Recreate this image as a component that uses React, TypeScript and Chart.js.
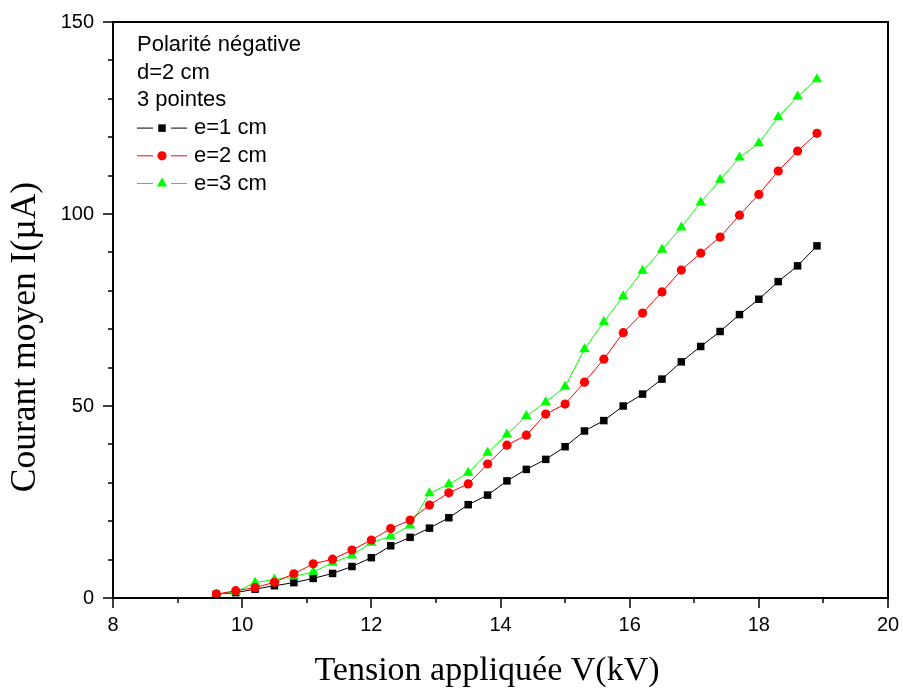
import React, { useEffect, useRef } from "react";
import { Chart, registerables } from "chart.js";

Chart.register(...registerables);

// ---------- data ----------
const voltages = [9.6, 9.9, 10.2, 10.5, 10.8, 11.1, 11.4, 11.7, 12.0, 12.3, 12.6, 12.9, 13.2, 13.5, 13.8, 14.1, 14.4, 14.7, 15.0, 15.3, 15.6, 15.9, 16.2, 16.5, 16.8, 17.1, 17.4, 17.7, 18.0, 18.3, 18.6, 18.9];
const currentE1 = [1.0, 1.4, 2.3, 3.2, 4.0, 5.1, 6.4, 8.2, 10.5, 13.6, 15.8, 18.2, 20.9, 24.3, 26.8, 30.5, 33.5, 36.1, 39.4, 43.5, 46.2, 50.0, 53.1, 57.0, 61.5, 65.5, 69.4, 73.8, 77.8, 82.4, 86.5, 91.7];
const currentE2 = [1.0, 1.9, 2.7, 4.1, 6.3, 8.9, 10.1, 12.5, 15.1, 18.1, 20.3, 24.2, 27.4, 29.7, 34.9, 39.8, 42.4, 47.9, 50.5, 56.2, 62.2, 69.1, 74.2, 79.7, 85.4, 89.8, 94.0, 99.7, 105.1, 111.2, 116.4, 121.0];
const currentE3 = [1.0, 1.6, 4.0, 4.8, 5.6, 6.8, 9.2, 11.1, 14.4, 16.1, 18.9, 27.3, 29.6, 32.6, 37.8, 42.6, 47.4, 51.0, 55.0, 64.8, 71.9, 78.6, 85.2, 90.7, 96.5, 103.0, 108.9, 114.7, 118.4, 125.2, 130.6, 135.1];

const seriesLabels = ["e=1 cm", "e=2 cm", "e=3 cm"];
const headerLines = ["Polarité négative", "d=2 cm", "3 pointes"];
const xTitle = "Tension appliquée V(kV)";
const yTitle = "Courant moyen I(µA)";
const xMin = 8, xMax = 20, xMajor = 2, xMinor = 1;
const yMin = 0, yMax = 150, yMajor = 50, yMinor = 10;

const SANS = "'Liberation Sans', Arial, sans-serif";
const SERIF = "'Liberation Serif', 'Times New Roman', serif";
const COLORS = ["#000000", "#ff0000", "#00ff00"];
const STYLES = ["rect", "circle", "triangle"];
const RADII = [5.3, 4.6, 6.0];

function drawMarker(ctx: CanvasRenderingContext2D, style: string, x: number, y: number, r: number, color: string) {
  ctx.save();
  ctx.fillStyle = color;
  ctx.beginPath();
  if (style === "rect") {
    const s = Math.SQRT1_2 * r;
    ctx.rect(x - s, y - s, 2 * s, 2 * s);
  } else if (style === "circle") {
    ctx.arc(x, y, r, 0, Math.PI * 2);
  } else {
    ctx.moveTo(x, y - r);
    ctx.lineTo(x + r * Math.sin(Math.PI / 3), y + r / 2);
    ctx.lineTo(x - r * Math.sin(Math.PI / 3), y + r / 2);
    ctx.closePath();
  }
  ctx.fill();
  ctx.restore();
}

const framePlugin = {
  id: "frameTicks",
  afterDraw(chart: any) {
    const { ctx, chartArea } = chart;
    const xs = chart.scales.x;
    const ys = chart.scales.y;
    ctx.save();
    ctx.strokeStyle = "#000";
    ctx.lineWidth = 2;
    ctx.strokeRect(chartArea.left, chartArea.top, chartArea.right - chartArea.left, chartArea.bottom - chartArea.top);
    ctx.lineWidth = 1.5;
    ctx.beginPath();
    for (let v = xMin; v <= xMax + 1e-9; v += xMinor) {
      const px = Math.round(xs.getPixelForValue(v));
      const len = Math.abs(v / xMajor - Math.round(v / xMajor)) < 1e-9 ? 10 : 5;
      ctx.moveTo(px, chartArea.bottom);
      ctx.lineTo(px, chartArea.bottom + len);
    }
    for (let v = yMin; v <= yMax + 1e-9; v += yMinor) {
      const py = Math.round(ys.getPixelForValue(v));
      const len = Math.abs(v / yMajor - Math.round(v / yMajor)) < 1e-9 ? 10 : 5;
      ctx.moveTo(chartArea.left, py);
      ctx.lineTo(chartArea.left - len, py);
    }
    ctx.stroke();

    // axis titles
    ctx.fillStyle = "#000";
    ctx.textAlign = "center";
    ctx.textBaseline = "alphabetic";
    ctx.font = `34px ${SERIF}`;
    ctx.fillText(xTitle, 487, 680);
    ctx.save();
    ctx.translate(35, 337);
    ctx.rotate(-Math.PI / 2);
    ctx.font = `35.5px ${SERIF}`;
    ctx.fillText(yTitle, 0, 0);
    ctx.restore();

    // legend block
    const x0 = chartArea.left + 24;
    const y0 = chartArea.top + 23;
    const step = 27.7;
    ctx.font = `22px ${SANS}`;
    ctx.fillStyle = "#000";
    ctx.textBaseline = "middle";
    ctx.textAlign = "left";
    headerLines.forEach((t, i) => ctx.fillText(t, x0, y0 + i * step));
    seriesLabels.forEach((t, i) => {
      const y = y0 + (headerLines.length + i) * step;
      ctx.strokeStyle = COLORS[i];
      ctx.lineWidth = 1;
      ctx.beginPath();
      ctx.moveTo(x0, y);
      ctx.lineTo(x0 + 16, y);
      ctx.moveTo(x0 + 34, y);
      ctx.lineTo(x0 + 50, y);
      ctx.stroke();
      drawMarker(ctx, STYLES[i], x0 + 25, y, RADII[i], COLORS[i]);
      ctx.fillStyle = "#000";
      ctx.fillText(t, x0 + 57, y);
    });
    ctx.restore();
  },
};

export default function App() {
  const canvasRef = useRef<HTMLCanvasElement | null>(null);

  useEffect(() => {
    document.body.style.margin = "0";
    const canvas = canvasRef.current;
    if (!canvas) return;
    const series = [currentE1, currentE2, currentE3];
    const drawOrder = [2, 0, 1];
    const chart = new Chart(canvas, {
      type: "line",
      data: {
        datasets: series.map((vals, i) => ({
          label: seriesLabels[i],
          data: voltages.map((v, j) => ({ x: v, y: vals[j] })),
          borderColor: COLORS[i],
          backgroundColor: COLORS[i],
          borderWidth: 1,
          pointStyle: STYLES[i] as any,
          pointRadius: RADII[i],
          pointBorderWidth: 0,
          pointBackgroundColor: COLORS[i],
          pointBorderColor: COLORS[i],
          tension: 0,
          order: drawOrder[i],
        })),
      },
      options: {
        animation: false,
        responsive: false,
        maintainAspectRatio: false,
        layout: { padding: { left: 0, top: 22, right: 15, bottom: 0 } },
        plugins: { legend: { display: false }, tooltip: { enabled: false } },
        scales: {
          x: {
            type: "linear",
            min: xMin,
            max: xMax,
            afterFit: (s: any) => { s.height = 93; s.paddingLeft = 0; s.paddingRight = 0; },
            grid: { display: false, drawTicks: false },
            border: { display: false },
            ticks: { stepSize: xMajor, padding: 15, color: "#000", maxRotation: 0, font: { family: SANS, size: 20 } },
            title: { display: false, text: xTitle },
          },
          y: {
            type: "linear",
            min: yMin,
            max: yMax,
            afterFit: (s: any) => { s.width = 113; s.paddingTop = 0; s.paddingBottom = 0; },
            grid: { display: false, drawTicks: false },
            border: { display: false },
            ticks: { stepSize: yMajor, padding: 19, color: "#000", font: { family: SANS, size: 20 } },
            title: { display: false, text: yTitle },
          },
        },
      },
      plugins: [framePlugin],
    });
    return () => chart.destroy();
  }, []);

  return (
    <div style={{ width: 903, height: 691, position: "relative" }}>
      <canvas ref={canvasRef} width={903} height={691} style={{ display: "block", width: 903, height: 691 }} />
    </div>
  );
}
